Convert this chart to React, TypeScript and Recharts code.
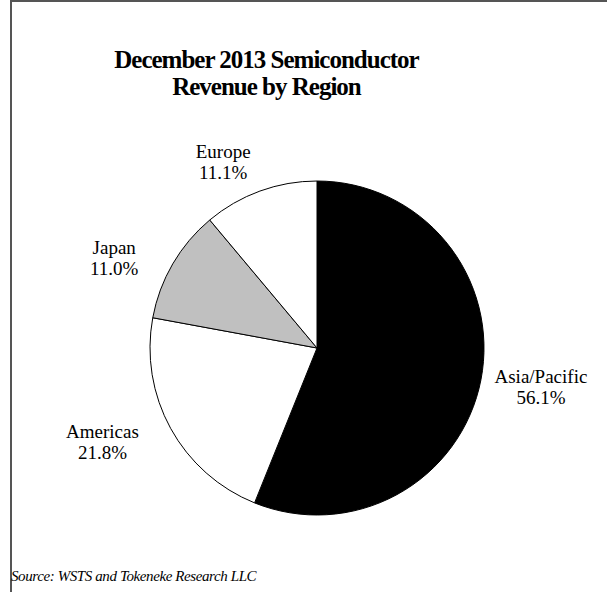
import { Cell, Pie, PieChart } from "recharts";

const regions = ["Asia/Pacific", "Americas", "Japan", "Europe"];
const shares = [56.1, 21.8, 11.0, 11.1];
const fills = ["#000000", "#ffffff", "#c0c0c0", "#ffffff"];

const data = regions.map((name, i) => ({ name, value: shares[i] }));

// hand nudges so the labels sit where the original put them
const nudge: Record<string, [number, number]> = {
  "Asia/Pacific": [6, -3],
  Americas: [-20, -13],
  Japan: [-11, 22],
  Europe: [-18, 23],
};

const RAD = Math.PI / 180;
const serif = "'Liberation Serif', 'Times New Roman', serif";

function renderLabel(props: any) {
  const { cx, cy, midAngle, outerRadius, name, value } = props;
  const r = outerRadius + 55;
  const [dx, dy] = nudge[name] ?? [0, 0];
  const x = cx + r * Math.cos(-midAngle * RAD) + dx;
  const y = cy + r * Math.sin(-midAngle * RAD) + dy;
  return (
    <text x={x} y={y} textAnchor="middle" fontFamily={serif} fontSize={19} fill="#000">
      <tspan x={x} dy={-4}>{name}</tspan>
      <tspan x={x} dy={21}>{`${Number(value).toFixed(1)}%`}</tspan>
    </text>
  );
}

export default function App() {
  return (
    <div style={{ position: "fixed", left: 0, top: 0, width: 607, height: 592, background: "#fff", overflow: "hidden" }}>
      <div style={{ position: "absolute", left: 10, top: 0, width: 800, height: 800, borderTop: "2px solid #555", borderLeft: "2px solid #555" }} />
      <div
        style={{
          position: "absolute",
          left: 0,
          top: 46,
          width: 533,
          textAlign: "center",
          fontFamily: serif,
          fontWeight: 700,
          fontSize: 25,
          letterSpacing: -1,
          lineHeight: "27px",
          color: "#000",
        }}
      >
        December 2013 Semiconductor
        <br />
        Revenue by Region
      </div>
      <PieChart
        width={607}
        height={592}
        margin={{ top: 0, right: 0, bottom: 0, left: 0 }}
        style={{ position: "absolute", left: 0, top: 0 }}
      >
        <Pie
          data={data}
          dataKey="value"
          nameKey="name"
          cx={317}
          cy={348}
          outerRadius={167}
          startAngle={90}
          endAngle={-270}
          stroke="#000"
          strokeWidth={1}
          label={renderLabel}
          labelLine={false}
          isAnimationActive={false}
        >
          {data.map((d, i) => (
            <Cell key={d.name} fill={fills[i]} />
          ))}
        </Pie>
      </PieChart>
      <div
        style={{
          position: "absolute",
          left: 11,
          top: 566,
          fontFamily: serif,
          fontStyle: "italic",
          fontSize: 15,
          letterSpacing: -0.4,
          lineHeight: "20px",
          color: "#000",
        }}
      >
        Source: WSTS and Tokeneke Research LLC
      </div>
    </div>
  );
}
